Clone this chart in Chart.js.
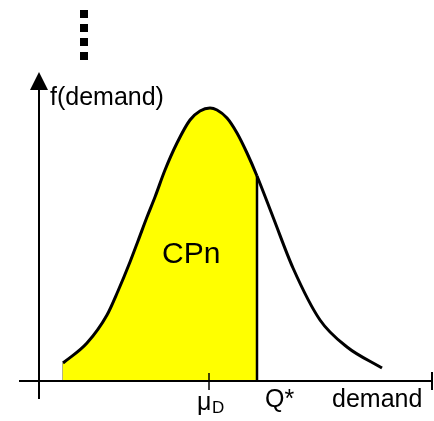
<!DOCTYPE html>
<html>
<head>
<meta charset="utf-8">
<script src="https://cdn.jsdelivr.net/npm/chart.js@4/dist/chart.umd.min.js"></script>
<style>
  html, body { margin: 0; padding: 0; background: #fff; }
  canvas { display: block; }
</style>
</head>
<body>
<canvas id="newsvendor" width="434" height="421"></canvas>
<script>
    "use strict";

    /** Curve (demand, f(demand)) */
    var demand = [26.5, 38.5, 48.5, 54, 60, 64, 68.5, 72.5, 77.5, 83.5, 90, 95, 100, 103.5, 108.5, 113.5, 118.5, 123.5, 131.5, 141.5, 155, 168.5, 186];
    var density = [18, 38, 66, 90, 119, 140, 164, 184, 211, 238, 261, 270, 273, 271, 263, 248, 228, 205, 164, 113, 61, 34, 13];

    var muD = 100;
    var qStar = 123.5;
    var qStarDensity = 205;

    /** Axis frame, in data units */
    var xAxisFrom = 4.5, xAxisTo = 211.5;
    var yAxisAt = 14.5, yAxisFrom = -18, yAxisTo = 309;

    var font = '"Liberation Sans", Arial, sans-serif';

    var curve = demand.map(function (d, i) { return {x: d, y: density[i]}; });

    /** Axes, arrow, labels */
    var frame = {
        id: 'frame',
        afterDraw: function (chart) {
            var ctx = chart.ctx;
            var x = chart.scales.x, y = chart.scales.y;
            var px = function (v) { return x.getPixelForValue(v); };
            var py = function (v) { return y.getPixelForValue(v); };

            ctx.save();
            ctx.strokeStyle = '#000';
            ctx.fillStyle = '#000';
            ctx.lineCap = 'butt';

            // x axis
            ctx.lineWidth = 2;
            ctx.beginPath();
            ctx.moveTo(px(xAxisFrom), py(0));
            ctx.lineTo(px(xAxisTo), py(0));
            ctx.stroke();
            // end tick
            ctx.beginPath();
            ctx.moveTo(px(xAxisTo) - 1, py(9));
            ctx.lineTo(px(xAxisTo) - 1, py(-9));
            ctx.stroke();

            // y axis
            ctx.beginPath();
            ctx.moveTo(px(yAxisAt), py(yAxisFrom));
            ctx.lineTo(px(yAxisAt), py(yAxisTo) + 12);
            ctx.stroke();
            ctx.beginPath();
            ctx.moveTo(px(yAxisAt), py(yAxisTo));
            ctx.lineTo(px(yAxisAt) - 9, py(yAxisTo) + 18);
            ctx.lineTo(px(yAxisAt) + 9, py(yAxisTo) + 18);
            ctx.closePath();
            ctx.fill();

            // mean tick
            ctx.lineWidth = 1.5;
            ctx.beginPath();
            ctx.moveTo(px(muD) - 1, py(8));
            ctx.lineTo(px(muD) - 1, py(-9));
            ctx.stroke();

            // the "more" dots above
            ctx.lineWidth = 8;
            ctx.setLineDash([8, 6]);
            ctx.beginPath();
            ctx.moveTo(84, 10);
            ctx.lineTo(84, 62);
            ctx.stroke();
            ctx.setLineDash([]);

            ctx.textBaseline = 'alphabetic';
            ctx.textAlign = 'left';
            ctx.font = '25px ' + font;
            ctx.fillText('f(demand)', px(yAxisAt) + 11, 105);
            ctx.fillText('Q*', px(qStar) + 8, py(-26));
            ctx.fillText('demand', 332, py(-26));
            ctx.fillText('\u03bc', px(muD) - 13, py(-29));
            ctx.font = '17px ' + font;
            ctx.fillText('D', px(muD) + 2, py(-32));

            ctx.font = '30px ' + font;
            ctx.fillText('CPn', 162, 263);
            ctx.restore();
        }
    };

    var ctx = document.getElementById('newsvendor').getContext('2d');
    var chart = new Chart(ctx, {
        type: 'line',
        data: {
            datasets: [{
                label: 'f(demand)',
                data: curve,
                borderColor: '#000',
                borderWidth: 3,
                backgroundColor: '#ffff00',
                fill: 'origin',
                cubicInterpolationMode: 'monotone',
                pointRadius: 0,
                segment: {
                    backgroundColor: function (c) {
                        return c.p0.parsed.x < qStar ? '#ffff00' : 'rgba(0,0,0,0)';
                    }
                },
                order: 1
            }, {
                label: 'Q*',
                data: [{x: qStar, y: 0}, {x: qStar, y: qStarDensity}],
                borderColor: '#000',
                borderWidth: 2.5,
                pointRadius: 0,
                fill: false,
                order: 0
            }, {
                label: 'left edge',
                data: [{x: demand[0], y: 0}, {x: demand[0], y: density[0]}],
                borderColor: '#6b6b00',
                borderWidth: 1,
                pointRadius: 0,
                fill: false,
                order: 2
            }]
        },
        options: {
            responsive: false,
            animation: false,
            layout: { padding: 0 },
            scales: {
                x: { type: 'linear', min: -5, max: 212, display: false },
                y: { min: -40, max: 381, display: false }
            },
            plugins: {
                legend: { display: false },
                tooltip: { enabled: false }
            }
        },
        plugins: [frame]
    });
</script>
</body>
</html>
